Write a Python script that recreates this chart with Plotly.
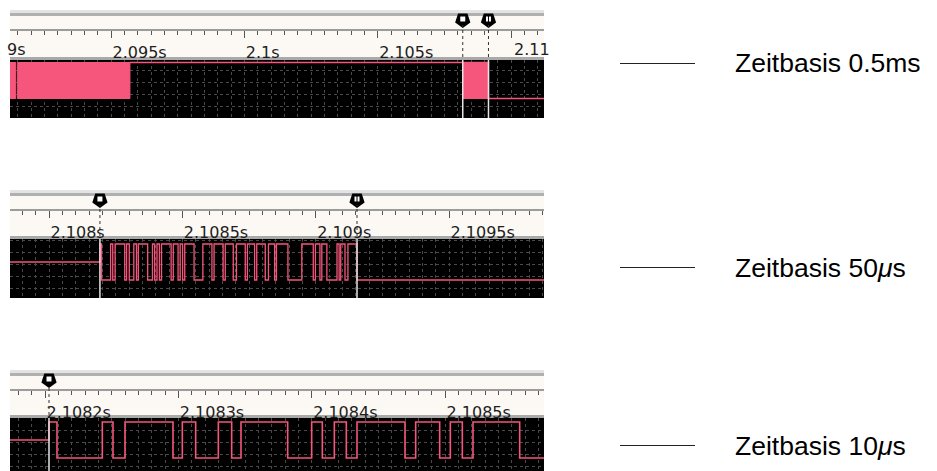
import plotly.graph_objects as go

W, H = 937, 471
PINK = "#f6567b"
GRID = "#4a4a4a"

# ---- data read from the three logic-analyzer captures ----
p1_ticks = [2.095, 2.1, 2.105, 2.11]
p1_labels = ["2.095s", "2.1s", "2.105s", "2.11s"]
p1_range = [2.0912125, 2.1112375]
p1_minor = 0.0005
p1_blocks = [(2.0911, 2.09143), (2.09150, 2.09571)]  # dense activity, too fast to resolve

p2_ticks = [2.108, 2.1085, 2.109, 2.1095]
p2_labels = ["2.108s", "2.1085s", "2.109s", "2.1095s"]
p2_range = [2.10785375, 2.10985625]
p2_minor = 0.00005

p3_ticks = [2.1082, 2.1083, 2.1084, 2.1085]
p3_labels = ["2.1082s", "2.1083s", "2.1084s", "2.1085s"]
p3_range = [2.10817375, 2.10857425]
p3_minor = 0.00001

cursor_a = 2.108191
cursor_b = 2.109155
cursor_zoom = 2.108203

# toggle times of the burst, microseconds after its start (starts high)
burst_edges_us = [6, 40, 48, 57, 93, 100, 110, 127, 137, 144, 179, 197, 205, 214,
                  223, 231, 267, 275, 293, 301, 310, 318, 353, 386, 420, 428, 462,
                  470, 500, 512, 545, 553, 580, 588, 620, 632, 655, 662, 705, 757,
                  800, 808, 825, 832, 851, 889, 897, 903, 919, 930, 964]

legend_texts = ["Zeitbasis 0.5ms", "Zeitbasis 50<i>μ</i>s", "Zeitbasis 10<i>μ</i>s"]

TICK_FONT = dict(family="DejaVu Sans", size=16, color="#1e1e1e")


def py(px):
    return 1 - px / H


def px_x(px):
    return px / W


def burst_xy(t0, x_start, x_end):
    xs, ys = [x_start, t0, t0], [0.5, 0.5, 1]
    level = 1
    for e in burst_edges_us:
        t = t0 + e * 1e-6
        xs += [t, t]
        ys += [level, 1 - level]
        level = 1 - level
    xs.append(x_end)
    ys.append(level)
    return xs, ys


def rect_xy(t0, t1):
    return [t0, t0, t1, t1, t0], [0, 1, 1, 0, 0]


panels = [
    dict(top=10, black=(60, 118), high=62.5, ticks=p1_ticks, labels=p1_labels,
         rng=p1_range, minor=p1_minor, cursors=[cursor_a, cursor_b], legend_y=63.5),
    dict(top=190, black=(239, 298), high=244, ticks=p2_ticks, labels=p2_labels,
         rng=p2_range, minor=p2_minor, cursors=[cursor_a, cursor_b], legend_y=267.5),
    dict(top=370, black=(418, 471), high=422, ticks=p3_ticks, labels=p3_labels,
         rng=p3_range, minor=p3_minor, cursors=[cursor_zoom], legend_y=445.5),
]

fig = go.Figure()
layout = {}
shapes = []
annotations = []
xdom = [px_x(10), px_x(544)]

for i, p in enumerate(panels):
    sx, rx = 2 * i + 1, 2 * i + 2
    sxn = "x" if sx == 1 else f"x{sx}"
    syn = "y" if sx == 1 else f"y{sx}"
    rxn, ryn = f"x{rx}", f"y{rx}"
    top = p["top"]
    btop, bbot = p["black"]
    unit = 36.0
    ymax = 1 + (p["high"] - btop) / unit
    ymin = -(bbot - (p["high"] + unit)) / unit

    layout["xaxis" if sx == 1 else f"xaxis{sx}"] = dict(
        domain=xdom, range=p["rng"], anchor=syn, showticklabels=False, ticks="",
        tickmode="linear", tick0=p["ticks"][0], dtick=p["minor"],
        showgrid=True, gridcolor=GRID, griddash="dot", gridwidth=1,
        zeroline=False, showline=False, fixedrange=True)
    layout["yaxis" if sx == 1 else f"yaxis{sx}"] = dict(
        domain=[py(bbot), py(btop)], range=[ymin, ymax], anchor=sxn,
        showticklabels=False, ticks="", tickmode="linear", tick0=0.1, dtick=1 / 3,
        showgrid=True, gridcolor=GRID, griddash="dot", gridwidth=1,
        zeroline=False, showline=False, fixedrange=True)
    layout[f"xaxis{rx}"] = dict(
        domain=xdom, range=p["rng"], matches=sxn, anchor="free", position=py(top + 20),
        side="top", tickmode="array", tickvals=p["ticks"], ticktext=p["labels"],
        ticks="inside", ticklen=7, tickcolor="#555", tickwidth=1,
        ticklabelposition="inside right", ticklabelstandoff=13, tickfont=TICK_FONT,
        minor=dict(tickmode="linear", tick0=p["ticks"][0], dtick=p["minor"],
                   ticks="inside", ticklen=4, tickcolor="#555", showgrid=False),
        showline=True, linecolor="#9c9c9c", linewidth=2, showgrid=False,
        zeroline=False, fixedrange=True)
    layout[f"yaxis{rx}"] = dict(
        domain=[py(btop), py(top)], range=[btop, top], anchor=rxn, visible=False,
        fixedrange=True)

    # ruler chrome
    def band(y0, y1, color, layer="below"):
        shapes.append(dict(type="rect", xref="paper", yref="paper", x0=xdom[0], x1=xdom[1],
                           y0=py(y1), y1=py(y0), fillcolor=color, line_width=0, layer=layer))
    band(top, top + 3, "#e3e3e3")
    band(top + 3, top + 6, "#b0b0b0")
    band(top + 6, btop - 2, "#fcf9f5")
    band(btop - 3, btop, "#a9a9a9")
    band(btop, bbot, "#000000")

    # signal
    if i == 0:
        for b0, b1 in p1_blocks + [(cursor_a, cursor_b)]:
            xs, ys = rect_xy(b0, b1)
            fig.add_trace(go.Scatter(x=xs, y=ys, xaxis=sxn, yaxis=syn, mode="lines",
                                     fill="toself", fillcolor=PINK, line=dict(color=PINK, width=1),
                                     hoverinfo="skip", showlegend=False))
        fig.add_trace(go.Scatter(x=[p1_blocks[-1][1], cursor_a, cursor_b, p["rng"][1]],
                                 y=[1, 1, 0, 0], xaxis=sxn, yaxis=syn, mode="lines",
                                 line=dict(color=PINK, width=1.5, shape="hv"),
                                 hoverinfo="skip", showlegend=False))
        # last label runs past the edge of the capture and is cut off there
        annotations.append(dict(xref=rxn, yref="paper", x=p1_ticks[-1], y=py(50),
                                xanchor="left", yanchor="middle", xshift=1, showarrow=False,
                                text=p1_labels[-1][:-1], font=TICK_FONT))
    else:
        xs, ys = burst_xy(p["cursors"][0], p["rng"][0] - 1e-3, p["rng"][1] + 1e-3)
        fig.add_trace(go.Scatter(x=xs, y=ys, xaxis=sxn, yaxis=syn, mode="lines",
                                 line=dict(color=PINK, width=1.6 if i == 2 else 1.3),
                                 hoverinfo="skip", showlegend=False))

    # cursors
    for c in p["cursors"]:
        shapes.append(dict(type="line", xref=sxn, yref="paper", x0=c, x1=c,
                           y0=py(bbot), y1=py(btop), line=dict(color="#e6e6e6", width=1.5),
                           layer="above"))
        shapes.append(dict(type="line", xref=sxn, yref="paper", x0=c, x1=c,
                           y0=py(btop - 3), y1=py(top + 15), line=dict(color="#333", width=1, dash="dot"),
                           layer="above"))
    cur = p["cursors"]
    fig.add_trace(go.Scatter(x=cur, y=[top + 10] * len(cur), xaxis=rxn, yaxis=ryn, mode="markers",
                             marker=dict(symbol="pentagon", angle=180, size=16, color="black"),
                             cliponaxis=False, hoverinfo="skip", showlegend=False))
    fig.add_trace(go.Scatter(x=cur, y=[top + 9] * len(cur), xaxis=rxn, yaxis=ryn, mode="markers",
                             marker=dict(symbol="square", size=5, color="white"),
                             cliponaxis=False, hoverinfo="skip", showlegend=False))
    if len(cur) > 1:
        fig.add_trace(go.Scatter(x=cur[1:], y=[top + 9], xaxis=rxn, yaxis=ryn, mode="markers",
                                 marker=dict(symbol="line-ns", size=5, line=dict(color="black", width=1)),
                                 cliponaxis=False, hoverinfo="skip", showlegend=False))

    # right-hand key
    shapes.append(dict(type="line", xref="paper", yref="paper", x0=px_x(620), x1=px_x(695),
                       y0=py(p["legend_y"]), y1=py(p["legend_y"]), line=dict(color="#222", width=1)))
    annotations.append(dict(xref="paper", yref="paper", x=px_x(733), y=py(p["legend_y"]),
                            xanchor="left", yanchor="middle", showarrow=False,
                            text=legend_texts[i],
                            font=dict(family="Liberation Sans", size=26.5, color="black")))

# clipped label at the left edge of the first ruler
annotations.append(dict(xref="paper", yref="paper", x=px_x(5), y=py(50), xanchor="left",
                        yanchor="middle", showarrow=False, text="9s", font=TICK_FONT))
shapes.append(dict(type="rect", xref="paper", yref="paper", x0=0, x1=px_x(10), y0=py(60), y1=py(0),
                   fillcolor="white", line_width=0, layer="above"))

fig.update_layout(
    width=W, height=H, margin=dict(l=0, r=0, t=0, b=0),
    paper_bgcolor="white", plot_bgcolor="rgba(0,0,0,0)",
    showlegend=False, shapes=shapes, annotations=annotations, **layout)

fig.write_html("out.html", config={"displayModeBar": False},
               post_script="document.body.style.margin='0';")
